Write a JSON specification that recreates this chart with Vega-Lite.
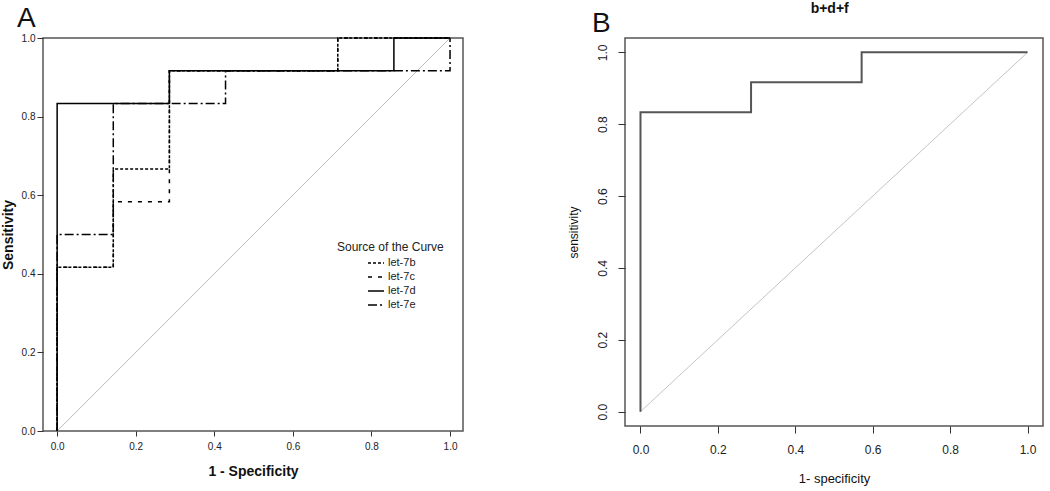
{
  "$schema": "https://vega.github.io/schema/vega-lite/v6.json",
  "background": "white",
  "padding": {"top": 2, "left": 0, "right": 0, "bottom": 0},
  "spacing": 102,
  "title": {"text": "b+d+f", "anchor": "end", "dx": -195, "fontSize": 14, "fontWeight": "bold", "font": "Liberation Sans", "color": "#111", "offset": -12},
  "config": {
    "view": {"stroke": "#555", "strokeWidth": 1.5},
    "font": "Liberation Sans",
    "axis": {"grid": false, "domain": false, "labelColor": "#222", "tickColor": "#333", "titleColor": "#111"}
  },
  "datasets": {
    "rocA": [
      {"curve": "let-7b", "i": 0, "fpr": 0, "tpr": 0},
      {"curve": "let-7b", "i": 1, "fpr": 0, "tpr": 0.4167},
      {"curve": "let-7b", "i": 2, "fpr": 0.1429, "tpr": 0.4167},
      {"curve": "let-7b", "i": 3, "fpr": 0.1429, "tpr": 0.6667},
      {"curve": "let-7b", "i": 4, "fpr": 0.2857, "tpr": 0.6667},
      {"curve": "let-7b", "i": 5, "fpr": 0.2857, "tpr": 0.9167},
      {"curve": "let-7b", "i": 6, "fpr": 0.7143, "tpr": 0.9167},
      {"curve": "let-7b", "i": 7, "fpr": 0.7143, "tpr": 1},
      {"curve": "let-7b", "i": 8, "fpr": 1, "tpr": 1},
      {"curve": "let-7c", "i": 0, "fpr": 0, "tpr": 0},
      {"curve": "let-7c", "i": 1, "fpr": 0, "tpr": 0.4167},
      {"curve": "let-7c", "i": 2, "fpr": 0.1429, "tpr": 0.4167},
      {"curve": "let-7c", "i": 3, "fpr": 0.1429, "tpr": 0.5833},
      {"curve": "let-7c", "i": 4, "fpr": 0.2857, "tpr": 0.5833},
      {"curve": "let-7c", "i": 5, "fpr": 0.2857, "tpr": 0.9167},
      {"curve": "let-7c", "i": 6, "fpr": 0.7143, "tpr": 0.9167},
      {"curve": "let-7c", "i": 7, "fpr": 0.7143, "tpr": 1},
      {"curve": "let-7c", "i": 8, "fpr": 1, "tpr": 1},
      {"curve": "let-7d", "i": 0, "fpr": 0, "tpr": 0},
      {"curve": "let-7d", "i": 1, "fpr": 0, "tpr": 0.8333},
      {"curve": "let-7d", "i": 2, "fpr": 0.2857, "tpr": 0.8333},
      {"curve": "let-7d", "i": 3, "fpr": 0.2857, "tpr": 0.9167},
      {"curve": "let-7d", "i": 4, "fpr": 0.8571, "tpr": 0.9167},
      {"curve": "let-7d", "i": 5, "fpr": 0.8571, "tpr": 1},
      {"curve": "let-7d", "i": 6, "fpr": 1, "tpr": 1},
      {"curve": "let-7e", "i": 0, "fpr": 0, "tpr": 0},
      {"curve": "let-7e", "i": 1, "fpr": 0, "tpr": 0.5},
      {"curve": "let-7e", "i": 2, "fpr": 0.1429, "tpr": 0.5},
      {"curve": "let-7e", "i": 3, "fpr": 0.1429, "tpr": 0.8333},
      {"curve": "let-7e", "i": 4, "fpr": 0.4286, "tpr": 0.8333},
      {"curve": "let-7e", "i": 5, "fpr": 0.4286, "tpr": 0.9167},
      {"curve": "let-7e", "i": 6, "fpr": 1, "tpr": 0.9167},
      {"curve": "let-7e", "i": 7, "fpr": 1, "tpr": 1}
    ],
    "diag": [{"x": 0, "y": 0}, {"x": 1, "y": 1}],
    "rocB": [
      {"i": 0, "fpr": 0, "tpr": 0},
      {"i": 1, "fpr": 0, "tpr": 0.8333},
      {"i": 2, "fpr": 0.2857, "tpr": 0.8333},
      {"i": 3, "fpr": 0.2857, "tpr": 0.9167},
      {"i": 4, "fpr": 0.5714, "tpr": 0.9167},
      {"i": 5, "fpr": 0.5714, "tpr": 1},
      {"i": 6, "fpr": 1, "tpr": 1}
    ]
  },
  "hconcat": [
    {
      "width": 420,
      "height": 393,
      "title": {"text": "A", "anchor": "start", "frame": "bounds", "font": "Liberation Sans", "fontSize": 28, "fontWeight": "normal", "color": "#111", "dx": 16, "offset": 0},
      "layer": [
        {
          "data": {"name": "diag"},
          "mark": {"type": "line", "color": "#bbbbbb", "strokeWidth": 1},
          "encoding": {
            "x": {"field": "x", "type": "quantitative", "scale": {"domain": [-0.036, 1.033], "nice": false, "zero": false},
              "axis": {"values": [0, 0.2, 0.4, 0.6, 0.8, 1], "format": ".1f", "labelFontSize": 10, "tickSize": 5, "labelPadding": 5, "title": "1 - Specificity", "titleFontSize": 14, "titleFontWeight": "bold", "titlePadding": 13}},
            "y": {"field": "y", "type": "quantitative", "scale": {"domain": [0, 1], "nice": false},
              "axis": {"values": [0, 0.2, 0.4, 0.6, 0.8, 1], "format": ".1f", "labelFontSize": 10, "tickSize": 6, "labelPadding": 2, "title": "Sensitivity", "titleFontSize": 14, "titleFontWeight": "bold", "titlePadding": 6}}
          }
        },
        {
          "data": {"name": "rocA"},
          "mark": {"type": "line", "color": "black", "strokeWidth": 1.5},
          "encoding": {
            "x": {"field": "fpr", "type": "quantitative"},
            "y": {"field": "tpr", "type": "quantitative"},
            "order": {"field": "i", "type": "quantitative"},
            "strokeDash": {"field": "curve", "type": "nominal",
              "scale": {"domain": ["let-7b", "let-7c", "let-7d", "let-7e"], "range": [[3, 2], [4, 6], [1, 0], [9, 3, 2, 3]]},
              "legend": {"title": "Source of the Curve", "orient": "none", "legendX": 294, "legendY": 204, "titleFontSize": 12, "titleFontWeight": "normal", "titleColor": "#222", "labelFontSize": 11, "labelColor": "#222", "symbolStrokeColor": "black", "symbolStrokeWidth": 1.5, "symbolSize": 256, "symbolOffset": 30, "labelOffset": 3, "rowPadding": -2.5, "titlePadding": 0}}
          }
        }
      ]
    },
    {
      "width": 418,
      "height": 388,
      "title": {"text": "B", "anchor": "start", "frame": "bounds", "font": "Liberation Sans", "fontSize": 28, "fontWeight": "normal", "color": "#111", "dx": 25, "offset": 0},
      "layer": [
        {
          "data": {"name": "diag"},
          "mark": {"type": "line", "color": "#c4c4c4", "strokeWidth": 1},
          "encoding": {
            "x": {"field": "x", "type": "quantitative", "scale": {"domain": [-0.04, 1.04], "nice": false, "zero": false},
              "axis": {"values": [0, 0.2, 0.4, 0.6, 0.8, 1], "format": ".1f", "labelFontSize": 12, "tickSize": 7, "labelPadding": 11, "title": "1- specificity", "titleFontSize": 13, "titleFontWeight": "normal", "titlePadding": 17}},
            "y": {"field": "y", "type": "quantitative", "scale": {"domain": [-0.04, 1.04], "nice": false, "zero": false},
              "axis": {"values": [0, 0.2, 0.4, 0.6, 0.8, 1], "format": ".1f", "labelFontSize": 12, "labelAngle": 270, "tickSize": 7, "labelPadding": 9, "title": "sensitivity", "titleFontSize": 12, "titleFontWeight": "normal", "titlePadding": 16}}
          }
        },
        {
          "data": {"name": "rocB"},
          "mark": {"type": "line", "color": "#555555", "strokeWidth": 2},
          "encoding": {
            "x": {"field": "fpr", "type": "quantitative"},
            "y": {"field": "tpr", "type": "quantitative"},
            "order": {"field": "i", "type": "quantitative"}
          }
        }
      ]
    }
  ]
}
